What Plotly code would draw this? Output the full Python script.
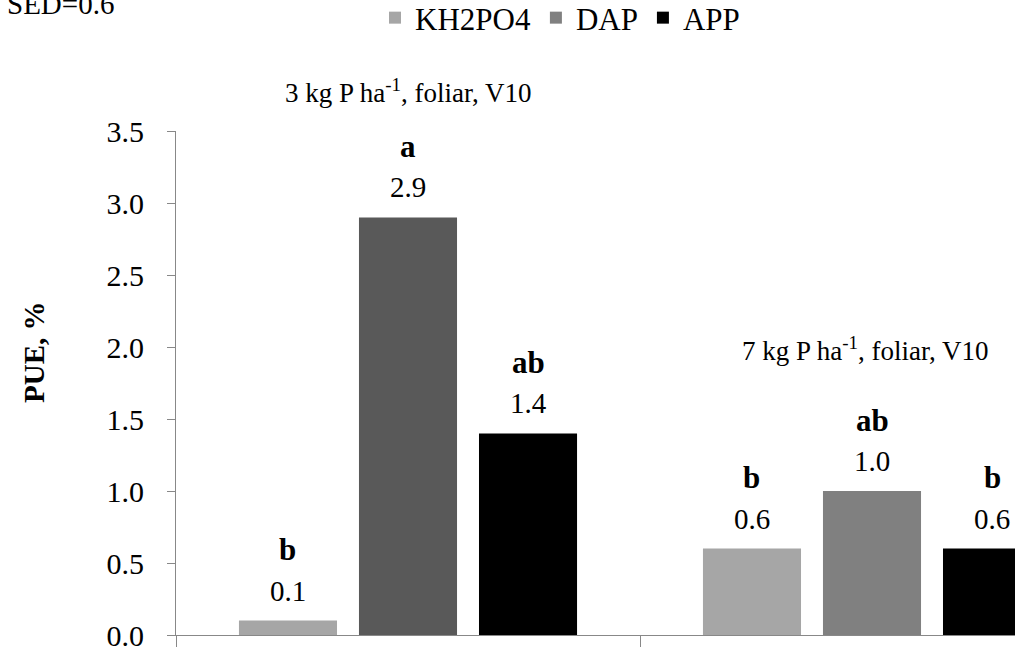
import plotly.graph_objects as go

# Data
groups = [0, 1]  # 3 and 7 kg P/ha, foliar at V10
group_labels = ["3 kg P ha<sup>-1</sup>, foliar, V10", "7 kg P ha<sup>-1</sup>, foliar, V10"]
sources = ["KH2PO4", "DAP", "APP"]
pue = {
    "KH2PO4": [0.1, 0.6],
    "DAP": [2.9, 1.0],
    "APP": [1.4, 0.6],
}
letters = {
    "KH2PO4": ["b", "b"],
    "DAP": ["a", "ab"],
    "APP": ["ab", "b"],
}
bar_colors = {
    "KH2PO4": ["#a6a6a6", "#a6a6a6"],
    "DAP": ["#595959", "#808080"],
    "APP": ["#000000", "#000000"],
}
legend_colors = {"KH2PO4": "#a6a6a6", "DAP": "#808080", "APP": "#000000"}
y_ticks = [0.0, 0.5, 1.0, 1.5, 2.0, 2.5, 3.0, 3.5]
sed_text = "SED=0.6"

FONT = "Liberation Serif"
W, H = 1015, 651
L, T, B = 176, 131, 16
PW, PH = W - L, H - T - B

def px_x(px):
    return (px - L) / PW

def px_y(py):
    return (H - B - py) / PH

BARGAP = 0.224
BARGROUPGAP = 0.183
slot = (1 - BARGAP) / len(sources)

fig = go.Figure()
for s in sources:
    fig.add_trace(go.Bar(
        x=groups, y=pue[s], name=s, offsetgroup=s,
        marker=dict(color=bar_colors[s], line=dict(width=0)),
        showlegend=False,
    ))
    # legend swatch in the series colour, sharing the series' slot
    fig.add_trace(go.Bar(
        x=[None], y=[None], name=s, offsetgroup=s,
        marker=dict(color=legend_colors[s], line=dict(width=0)),
        showlegend=True,
    ))

annotations = []
for i, s in enumerate(sources):
    for g, v, lt in zip(groups, pue[s], letters[s]):
        xc = g - (1 - BARGAP) / 2 + slot * (i + 0.5)
        annotations.append(dict(
            x=xc, y=v, xref="x", yref="y", text=f"{v:.1f}", showarrow=False,
            yanchor="middle", yshift=30, font=dict(family=FONT, size=29, color="black"),
        ))
        annotations.append(dict(
            x=xc, y=v, xref="x", yref="y", text=f"<b>{lt}</b>", showarrow=False,
            yanchor="middle", yshift=71, font=dict(family=FONT, size=31, color="black"),
        ))

annotations.append(dict(x=0, y=px_y(91), xref="x", yref="paper", text=group_labels[0],
                        showarrow=False, yanchor="middle",
                        font=dict(family=FONT, size=27, color="black")))
annotations.append(dict(x=1, y=px_y(349), xref="x", yref="paper", text=group_labels[1],
                        showarrow=False, yanchor="middle", xshift=-7,
                        font=dict(family=FONT, size=27, color="black")))
annotations.append(dict(x=px_x(34), y=px_y(352), xref="paper", yref="paper",
                        text="<b>PUE, %</b>", textangle=-90, showarrow=False,
                        xanchor="center", yanchor="middle",
                        font=dict(family=FONT, size=29, color="black")))
annotations.append(dict(x=px_x(5), y=px_y(4), xref="paper", yref="paper",
                        text=sed_text, showarrow=False, xanchor="left", yanchor="middle",
                        font=dict(family=FONT, size=29, color="black")))

x_right = -0.5 + PW / 464.0

fig.update_layout(
    width=W, height=H,
    margin=dict(l=L, r=0, t=T, b=B, pad=0, autoexpand=False),
    paper_bgcolor="white", plot_bgcolor="white",
    barmode="group", bargap=BARGAP, bargroupgap=BARGROUPGAP,
    font=dict(family=FONT, color="black"),
    showlegend=True,
    legend=dict(
        orientation="h", x=px_x(560), xanchor="center", y=px_y(18), yanchor="middle",
        font=dict(family=FONT, size=31, color="black"),
        itemwidth=30, tracegroupgap=0, bgcolor="rgba(0,0,0,0)",
    ),
    annotations=annotations,
    xaxis=dict(
        range=[-0.5, x_right], showgrid=False, zeroline=False,
        showline=True, linecolor="#888888", linewidth=1,
        tickmode="array", tickvals=[-0.5, 0.5], ticktext=["", ""],
        ticks="outside", ticklen=11, tickcolor="#888888", tickwidth=1,
        fixedrange=True,
    ),
    yaxis=dict(
        range=[0, 3.5], showgrid=False, zeroline=False,
        showline=True, linecolor="#888888", linewidth=1,
        tickmode="array", tickvals=y_ticks, ticktext=[f"{t:.1f}" for t in y_ticks],
        ticks="outside", ticklen=8, tickcolor="#888888", tickwidth=1,
        tickfont=dict(family=FONT, size=30, color="black"),
        ticklabelstandoff=17, ticklabeloverflow="allow",
        fixedrange=True,
    ),
)

fig.write_html("out.html")
